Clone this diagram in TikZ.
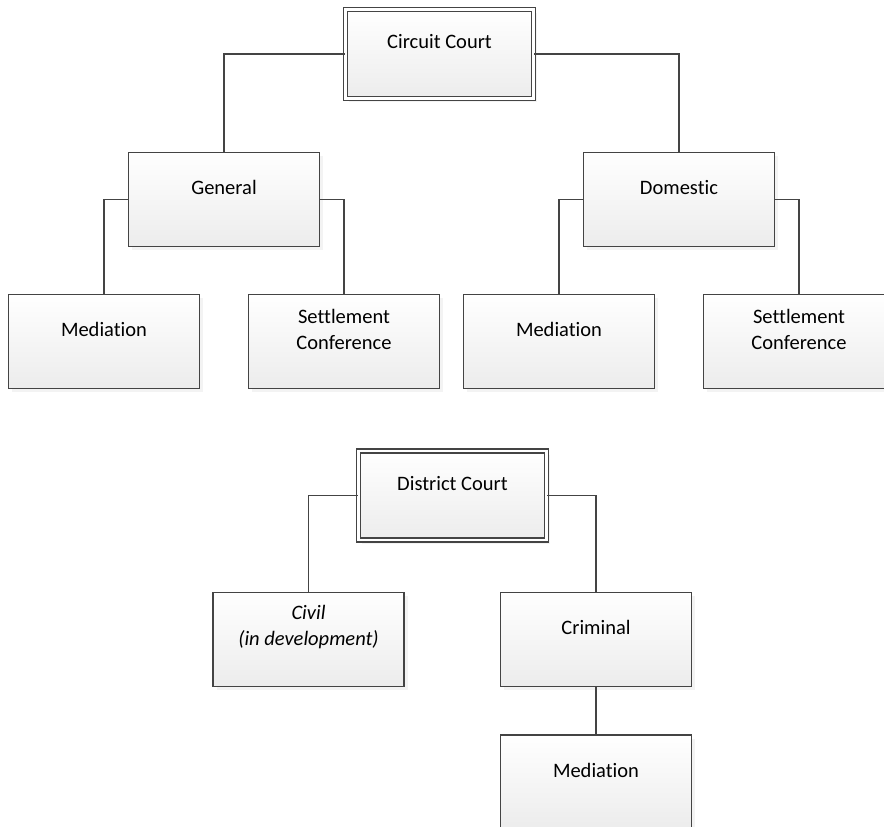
\documentclass[tikz,border=0pt]{standalone}
\usepackage{fontspec}
\setmainfont{Carlito}[Ligatures=NoCommon]
\usetikzlibrary{positioning, shadows}
\definecolor{myline}{RGB}{68, 68, 68}
\definecolor{myshade}{RGB}{236, 236, 236}
\definecolor{myshadow}{RGB}{232, 232, 232}

\begin{document}
\begin{tikzpicture}[
    x=1pt, y=-1pt,
    font=\fontsize{20.5}{26}\selectfont,
    box/.style={rectangle, draw=myline, line width=1.8pt, top color=white, bottom color=myshade, minimum width=191pt, minimum height=94pt, drop shadow={shadow xshift=3.5pt, shadow yshift=-3.5pt, fill=myshadow}},
    court/.style={box, double, double distance=2.2pt, line width=1.6pt, minimum width=188pt, minimum height=89pt},
    txt/.style={align=center, yshift=12pt, text=black},
    conn/.style={draw=myline, line width=1.8pt}
]
\useasboundingbox (0,0) rectangle (884,827);
\clip (0,0) rectangle (884,827);

% Circuit court
\node[court, label={[txt]center:Circuit Court}] (circuit) at (439.5,54) {};
\node[box, label={[txt]center:General}] (general) at (224,199.5) {};
\node[box, label={[txt]center:Domestic}] (domestic) at (679,199.5) {};
\node[box, label={[txt]center:Mediation}] (genmed) at (104,341.5) {};
\node[box, label={[txt]center:Settlement\\Conference}] (genset) at (344,341.5) {};
\node[box, label={[txt]center:Mediation}] (dommed) at (559,341.5) {};
\node[box, label={[txt]center:Settlement\\Conference}] (domset) at (799,341.5) {};

% District court
\node[court, label={[txt]center:District Court}] (district) at (452.5,495.5) {};
\node[box, label={[txt, font=\fontsize{20.5}{26}\selectfont\itshape]center:Civil\\(in development)}] (civil) at (308.5,639.5) {};
\node[box, label={[txt]center:Criminal}] (criminal) at (596,639.5) {};
\node[box, below=47pt of criminal, label={[txt]center:Mediation}] (crimmed) {};

% Lines
\draw[conn] (circuit.west) -| (general.north);
\draw[conn] (circuit.east) -| (domestic.north);
\draw[conn] (general.west) -| (genmed.north);
\draw[conn] (general.east) -| (genset.north);
\draw[conn] (domestic.west) -| (dommed.north);
\draw[conn] (domestic.east) -| (domset.north);
\draw[conn] (district.west) -| (civil.north);
\draw[conn] (district.east) -| (criminal.north);
\draw[conn] (criminal) -- (crimmed);

\end{tikzpicture}
\end{document}
